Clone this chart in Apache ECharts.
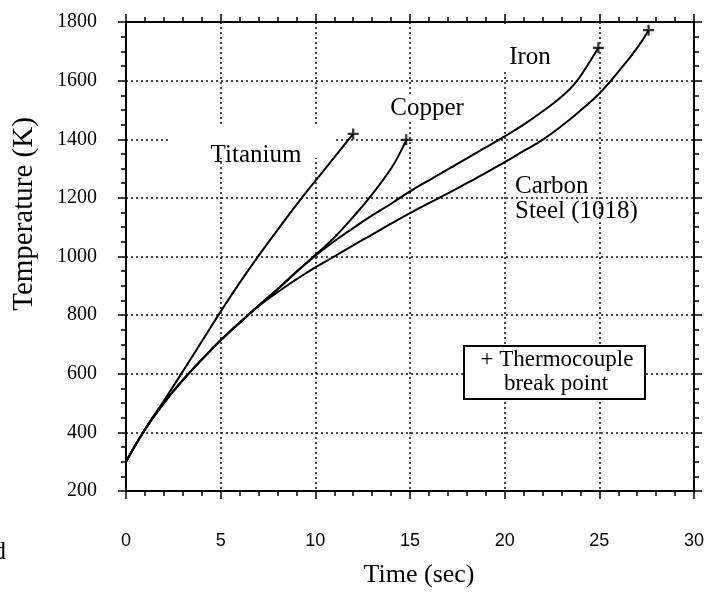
<!DOCTYPE html>
<html>
<head>
<meta charset="utf-8">
<script src="https://cdn.jsdelivr.net/npm/echarts@6/dist/echarts.min.js"></script>
<style>
html,body{margin:0;padding:0;background:#fff;}
#chart{width:724px;height:595px;}
</style>
</head>
<body>
<div id="chart"></div>
<script>
// ---- data ----
const xTicks = [0, 5, 10, 15, 20, 25, 30];
const yTicks = [200, 400, 600, 800, 1000, 1200, 1400, 1600, 1800];

const titaniumTime = [0, 1, 2, 3, 4, 5, 6, 7, 8, 9, 10, 11, 12];
const titaniumTemp = [300, 410, 508, 608, 710, 812, 910, 1002, 1090, 1176, 1258, 1338, 1418];

const copperTime = [0, 1, 2, 3, 4, 5, 6, 7, 8, 9, 10, 11, 12, 13, 14, 14.5, 14.8];
const copperTemp = [300, 410, 500, 578, 648, 714, 774, 832, 888, 948, 1005, 1065, 1135, 1212, 1300, 1357, 1398];

const ironTime = [0, 1, 2, 3, 4, 5, 6, 7, 8, 9, 10, 11, 12, 13, 14, 15, 16, 17, 18, 19, 20, 21, 22, 23, 23.7, 24.3, 24.95];
const ironTemp = [300, 410, 500, 578, 648, 714, 774, 832, 888, 947, 1003, 1052, 1097, 1140, 1180, 1222, 1260, 1297, 1335, 1372, 1410, 1450, 1495, 1545, 1590, 1645, 1712];

const carbonTime = [0, 1, 2, 3, 4, 5, 6, 7, 8, 9, 10, 11, 12, 13, 14, 15, 16, 17, 18, 19, 20, 21, 22, 23, 24, 25, 26, 27, 27.6];
const carbonTemp = [300, 410, 500, 578, 648, 714, 774, 830, 878, 922, 963, 1000, 1038, 1075, 1112, 1148, 1182, 1215, 1250, 1285, 1322, 1360, 1398, 1445, 1498, 1556, 1630, 1712, 1772];

const seriesNames = ['Titanium', 'Copper', 'Iron', 'Carbon Steel (1018)'];
// ---------------------------------------

const pairs = (t, v) => t.map((x, i) => [x, v[i]]);
const curves = [
  pairs(titaniumTime, titaniumTemp),
  pairs(copperTime, copperTemp),
  pairs(ironTime, ironTemp),
  pairs(carbonTime, carbonTemp)
];
const breakPoints = curves.map(c => c[c.length - 1]);

const serif = '"Liberation Serif", "Times New Roman", serif';
const sans = '"Liberation Sans", Arial, sans-serif';
const black = '#000';

function xAxisDef(pos, labels) {
  return {
    type: 'value', position: pos, min: xTicks[0], max: xTicks[xTicks.length - 1],
    interval: xTicks[1] - xTicks[0],
    axisLine: { show: true, onZero: false, lineStyle: { color: black, width: 2 } },
    axisTick: { show: true, inside: false, length: 8, lineStyle: { color: black, width: 1.5 } },
    minorTick: { show: true, splitNumber: 5, length: 5, lineStyle: { color: black, width: 1.5 } },
    splitLine: { show: labels, lineStyle: { color: '#111', width: 1.5, type: [2, 3] } },
    axisLabel: labels ? { show: true, margin: 41, color: black, fontFamily: sans, fontSize: 18, formatter: v => String(v) } : { show: false }
  };
}
function yAxisDef(pos, labels) {
  return {
    type: 'value', position: pos, min: yTicks[0], max: yTicks[yTicks.length - 1],
    interval: yTicks[1] - yTicks[0],
    axisLine: { show: true, onZero: false, lineStyle: { color: black, width: 2 } },
    axisTick: { show: true, inside: false, length: 8, lineStyle: { color: black, width: 1.5 } },
    minorTick: { show: true, splitNumber: 4, length: 5, lineStyle: { color: black, width: 1.5 } },
    splitLine: { show: labels, lineStyle: { color: '#111', width: 1.5, type: [2, 3] } },
    axisLabel: labels ? { show: true, margin: 29, color: black, fontFamily: serif, fontSize: 20, formatter: v => String(v) } : { show: false }
  };
}

const chart = echarts.init(document.getElementById('chart'), null, { renderer: 'canvas' });

const lineSeries = curves.map((c, i) => ({
  name: seriesNames[i], type: 'line', data: c, smooth: 0.5, showSymbol: false, z: 3,
  lineStyle: { color: black, width: 2 }, animation: false
}));

const plusPath = 'path://M4,0H6V4H10V6H6V10H4V6H0V4H4Z';

function txt(text, x, y, size, opts) {
  return Object.assign({
    type: 'text', x: x, y: y, z: 6,
    style: Object.assign({ text: text, font: size + 'px ' + serif, fill: black, textAlign: 'center', textVerticalAlign: 'middle' }, (opts && opts.style) || {})
  }, (opts && opts.el) || {});
}
function mask(x, y, w, h) {
  return { type: 'rect', z: 1, shape: { x: x, y: y, width: w, height: h }, style: { fill: '#fff' } };
}

chart.setOption({
  backgroundColor: '#fff',
  animation: false,
  grid: { left: 126, right: 30, top: 22, bottom: 104, containLabel: false },
  xAxis: [xAxisDef('bottom', true), xAxisDef('top', false)],
  yAxis: [yAxisDef('left', true), yAxisDef('right', false)],
  series: lineSeries.concat([{
    type: 'scatter', data: breakPoints, symbol: plusPath, symbolSize: 11, z: 4,
    itemStyle: { color: black }, animation: false
  }]),
  graphic: [
    mask(170, 125, 163, 33),
    mask(388, 96, 80, 24),
    mask(497, 25, 60, 46),
    txt('Titanium', 256, 155, 25),
    txt('Copper', 427, 108, 25),
    txt('Iron', 530, 57, 25),
    txt('Carbon', 515, 186, 25, { style: { textAlign: 'left' } }),
    txt('Steel (1018)', 515, 211, 25, { style: { textAlign: 'left' } }),
    {
      type: 'rect', z: 5, shape: { x: 464, y: 346, width: 181, height: 53 },
      style: { fill: '#fff', stroke: black, lineWidth: 2 }
    },
    txt('+ Thermocouple', 557, 360, 23),
    txt('break point', 556, 384, 23),
    txt('Temperature (K)', 24, 214, 29, { el: { rotation: Math.PI / 2 } }),
    txt('Time (sec)', 419, 575, 26),
    txt('d', 6, 552, 25, { style: { textAlign: 'right' } })
  ]
});
</script>
</body>
</html>
